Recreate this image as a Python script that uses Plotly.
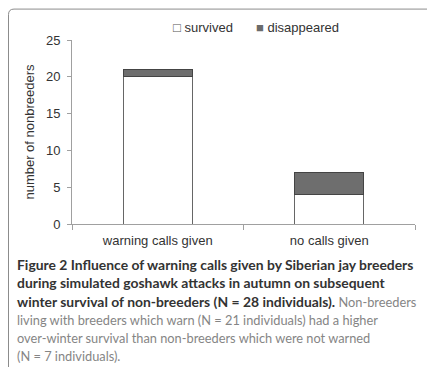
import plotly.graph_objects as go

categories = ["warning calls given", "no calls given"]
survived = [20, 4]
disappeared = [1, 3]
y_ticks = [0, 5, 10, 15, 20, 25]
legend_labels = ["survived", "disappeared"]
y_title = "number of nonbreeders"
caption_lines = [
    ("Figure 2 Influence of warning calls given by Siberian jay breeders", ""),
    ("during simulated goshawk attacks in autumn on subsequent", ""),
    ("winter survival of non-breeders (N = 28 individuals).", " Non-breeders"),
    ("", "living with breeders which warn (N = 21 individuals) had a higher"),
    ("", "over-winter survival than non-breeders which were not warned"),
    ("", "(N = 7 individuals)."),
]

W, H = 427, 367
ML, MR, MT, MB = 72, 12, 39.5, 143
PW, PH = W - ML - MR, H - MT - MB

def px(x):
    return (x - ML) / PW

def py(y):
    return (H - MB - y) / PH

fig = go.Figure()
fig.add_trace(go.Bar(x=categories, y=survived, name=legend_labels[0],
                     marker=dict(color="white", line=dict(color="#666666", width=1)),
                     width=0.4, showlegend=False))
fig.add_trace(go.Bar(x=categories, y=disappeared, name=legend_labels[1],
                     marker=dict(color="#6e6e6e", line=dict(color="#444444", width=1)),
                     width=0.4, showlegend=False))

font = "Liberation Sans, Arial, sans-serif"
cap_font = "Lato, Roboto, sans-serif"
BOLD_SIZE, REG_SIZE = 13.9, 12.8

ann = []
ann.append(dict(x=px(171), y=py(27), xref="paper", yref="paper", xanchor="left", yanchor="middle",
                showarrow=False, text="<span style='color:#555555'>\u25a1</span> " + legend_labels[0],
                font=dict(family=font, size=13, color="#333333")))
ann.append(dict(x=px(254), y=py(27), xref="paper", yref="paper", xanchor="left", yanchor="middle",
                showarrow=False, text="<span style='color:#6b6b6b'>\u25a0</span> " + legend_labels[1],
                font=dict(family=font, size=13, color="#333333")))

cap_y = [265, 283, 302, 320, 338, 356]
for (b, r), yy in zip(caption_lines, cap_y):
    t = ""
    if b:
        t += "<b>" + b + "</b>"
    if r:
        t += f"<span style='color:#858585;font-size:{REG_SIZE}px'>" + r + "</span>"
    ann.append(dict(x=px(15), y=py(yy), xref="paper", yref="paper", xanchor="left", yanchor="middle",
                    showarrow=False, text=t, align="left",
                    font=dict(family=cap_font, size=BOLD_SIZE if b else REG_SIZE, color="#333333")))

fig.update_layout(
    width=W, height=H, barmode="stack",
    margin=dict(l=ML, r=MR, t=MT, b=MB, autoexpand=False),
    paper_bgcolor="white", plot_bgcolor="white",
    font=dict(family=font, size=13, color="#333333"),
    annotations=ann,
    shapes=[dict(type="path", xref="paper", yref="paper",
                 path=f"M {px(440)} {py(8.5)} L {px(14)} {py(8.5)} Q {px(8.5)} {py(8.5)} {px(8.5)} {py(14)} L {px(8.5)} {py(380)}",
                 line=dict(color="#8c8c8c", width=1))],
)
fig.update_xaxes(showline=True, linecolor="#a0a0a0", linewidth=1, ticks="outside", tickson="boundaries",
                 ticklen=5, tickcolor="#a0a0a0", showgrid=False, ticklabelstandoff=4,
                 tickfont=dict(size=13, color="#333333"))
fig.update_yaxes(range=[0, 25], tickvals=y_ticks, showline=True, linecolor="#a0a0a0", linewidth=1,
                 ticks="outside", ticklen=4, tickcolor="#a0a0a0", showgrid=False, zeroline=False,
                 ticklabelstandoff=4, tickfont=dict(size=13, color="#333333"),
                 title=dict(text=y_title, font=dict(size=13, color="#333333"), standoff=8))

fig.write_html("out.html", config={"displayModeBar": False},
               post_script="document.body.style.margin='0';")
